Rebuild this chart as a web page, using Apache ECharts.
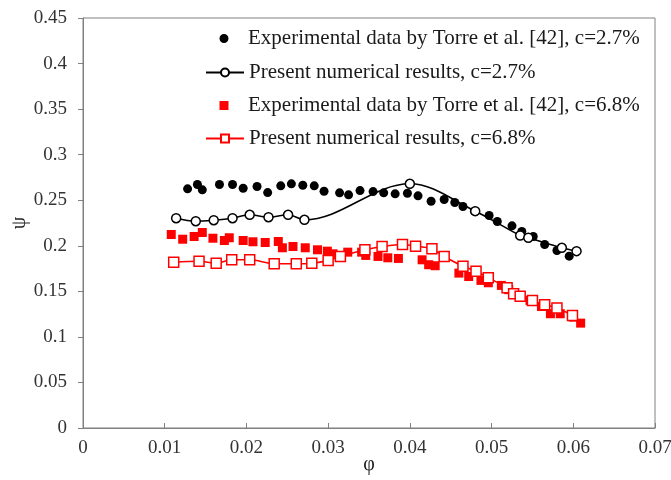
<!DOCTYPE html>
<html>
<head>
<meta charset="utf-8">
<script src="https://cdn.jsdelivr.net/npm/echarts@6/dist/echarts.min.js"></script>
<style>html,body{margin:0;padding:0;background:#fff}#c{width:671px;height:480px}</style>
</head>
<body>
<div id="c"></div>
<script>
const xTicks = [0, 0.01, 0.02, 0.03, 0.04, 0.05, 0.06, 0.07];
const yTicks = [0, 0.05, 0.1, 0.15, 0.2, 0.25, 0.3, 0.35, 0.4, 0.45];

const expX27 = [0.0128,0.0140,0.0146,0.0167,0.0183,0.0196,0.0213,0.0226,0.0242,0.0255,0.0269,0.0283,0.0295,0.0314,0.0325,0.0339,0.0355,0.0368,0.0382,0.0397,0.0410,0.0426,0.0442,0.0455,0.0465,0.0479,0.0497,0.0507,0.0525,0.0537,0.0551,0.0565,0.0580,0.0595];
const expY27 = [0.2625,0.2672,0.2614,0.2672,0.2672,0.2632,0.2650,0.2584,0.2658,0.2680,0.2664,0.2658,0.2599,0.2581,0.2559,0.2606,0.2595,0.2581,0.2570,0.2577,0.2548,0.2489,0.2508,0.2475,0.2431,0.2380,0.2332,0.2266,0.2219,0.2157,0.2102,0.2014,0.1948,0.1886];

const numX27 = [0.0114,0.0138,0.0160,0.0183,0.0204,0.0227,0.0251,0.0271,0.0400,0.0480,0.0535,0.0545,0.0586,0.0604];
const numY27 = [0.2303,0.2270,0.2281,0.2303,0.2340,0.2314,0.2340,0.2285,0.2680,0.2380,0.2113,0.2088,0.1978,0.1941];

const expX68 = [0.0108,0.0122,0.0136,0.0146,0.0159,0.0173,0.0179,0.0196,0.0208,0.0223,0.0239,0.0244,0.0257,0.0272,0.0287,0.0299,0.0306,0.0324,0.0341,0.0346,0.0361,0.0373,0.0386,0.0415,0.0423,0.0431,0.0460,0.0472,0.0487,0.0496,0.0512,0.0521,0.0547,0.0561,0.0572,0.0584,0.0600,0.0609];
const expY68 = [0.2124,0.2072,0.2102,0.2146,0.2083,0.2058,0.2088,0.2058,0.2044,0.2036,0.2047,0.1978,0.1992,0.1978,0.1956,0.1941,0.1912,0.1930,0.1930,0.1894,0.1883,0.1868,0.1861,0.1846,0.1792,0.1781,0.1700,0.1663,0.1620,0.1594,0.1565,0.1518,0.1400,0.1334,0.1254,0.1254,0.1217,0.1151];

const numX68 = [0.0111,0.0142,0.0163,0.0182,0.0204,0.0234,0.0261,0.0280,0.0300,0.0315,0.0345,0.0366,0.0391,0.0407,0.0427,0.0442,0.0465,0.0481,0.0496,0.0519,0.0527,0.0535,0.0550,0.0565,0.0580,0.0599];
const numY68 = [0.1820,0.1831,0.1809,0.1846,0.1846,0.1803,0.1803,0.1809,0.1839,0.1883,0.1956,0.1992,0.2014,0.1996,0.1967,0.1883,0.1776,0.1721,0.1649,0.1539,0.1474,0.1447,0.1400,0.1353,0.1316,0.1236];

const names = [
  'Experimental data by Torre et al. [42], c=2.7%',
  'Present numerical results, c=2.7%',
  'Experimental data by Torre et al. [42], c=6.8%',
  'Present numerical results, c=6.8%'
];

const zip = (xs, ys) => xs.map((x, i) => [x, ys[i]]);
const FONT = '"Liberation Serif", "DejaVu Serif", serif';
const chart = echarts.init(document.getElementById('c'), null, {renderer: 'canvas'});

// legend icons for scatter: symbol centred in a 38x9 box
const dotIcon = 'path://M0 4.5h0.01M38 4.5h0.01M14.5 4.5a4.5 4.5 0 1 0 9 0a4.5 4.5 0 1 0 -9 0z';
const sqIcon = 'path://M0 0h0.01M38 9h0.01M14.5 0h9v9h-9z';

const legendBase = (i, top, w, h, icon) => ({
  data: [icon ? {name: names[i], icon: icon} : names[i]], left: 205, top: top, padding: 0,
  itemWidth: w, itemHeight: h, selectedMode: false,
  textStyle: {fontFamily: FONT, fontSize: 21, color: '#1a1a1a'}
});

chart.setOption({
  animation: false,
  backgroundColor: '#fff',
  grid: {left: 83, right: 16, top: 18, bottom: 52, show: true, borderColor: '#808080', borderWidth: 1,
    containLabel: false, outerBoundsMode: 'none'},
  legend: [
    legendBase(0, 28, 38, 9, dotIcon),
    legendBase(1, 62, 38, 10),
    legendBase(2, 95, 38, 9, sqIcon),
    legendBase(3, 128, 38, 10)
  ],
  xAxis: {
    type: 'value', min: 0, max: 0.07, interval: 0.01,
    name: 'φ', nameLocation: 'middle', nameGap: 27, nameMoveOverlap: false,
    nameTextStyle: {fontFamily: FONT, fontSize: 20, color: '#1a1a1a'},
    axisLine: {show: true, lineStyle: {color: '#808080', width: 1}},
    axisTick: {show: true, inside: true, length: 5, lineStyle: {color: '#808080'}},
    splitLine: {show: false},
    axisLabel: {fontFamily: FONT, fontSize: 19, color: '#333', margin: 11,
      formatter: v => { const t = xTicks.find(t => Math.abs(t - v) < 1e-9); return t === undefined ? '' : String(t); }}
  },
  yAxis: {
    type: 'value', min: 0, max: 0.45, interval: 0.05,
    name: 'ψ', nameLocation: 'middle', nameGap: 53, nameMoveOverlap: false,
    nameTextStyle: {fontFamily: FONT, fontSize: 20, color: '#1a1a1a'},
    axisLine: {show: true, lineStyle: {color: '#808080', width: 1}},
    axisTick: {show: true, inside: false, length: 5, lineStyle: {color: '#808080'}},
    splitLine: {show: false},
    axisLabel: {fontFamily: FONT, fontSize: 19, color: '#333', margin: 16,
      formatter: v => { const t = yTicks.find(t => Math.abs(t - v) < 1e-9); return t === undefined ? '' : String(t); }}
  },
  series: [
    {name: names[0], type: 'scatter', data: zip(expX27, expY27), symbol: 'circle', symbolSize: 9,
      itemStyle: {color: '#000', opacity: 1}, z: 3},
    {name: names[1], type: 'line', data: zip(numX27, numY27), smooth: 0.35, symbol: 'circle', symbolSize: 9,
      showAllSymbol: true,
      lineStyle: {color: '#000', width: 1.6}, itemStyle: {color: '#fff', borderColor: '#000', borderWidth: 1.5}, z: 4},
    {name: names[2], type: 'scatter', data: zip(expX68, expY68), symbol: 'rect', symbolSize: 9,
      itemStyle: {color: '#ff0000', opacity: 1}, z: 3},
    {name: names[3], type: 'line', data: zip(numX68, numY68), smooth: 0.35, symbol: 'rect', symbolSize: 10,
      showAllSymbol: true,
      lineStyle: {color: '#ff0000', width: 1.6}, itemStyle: {color: '#fff', borderColor: '#ff0000', borderWidth: 1.5}, z: 4}
  ]
});
</script>
</body>
</html>
